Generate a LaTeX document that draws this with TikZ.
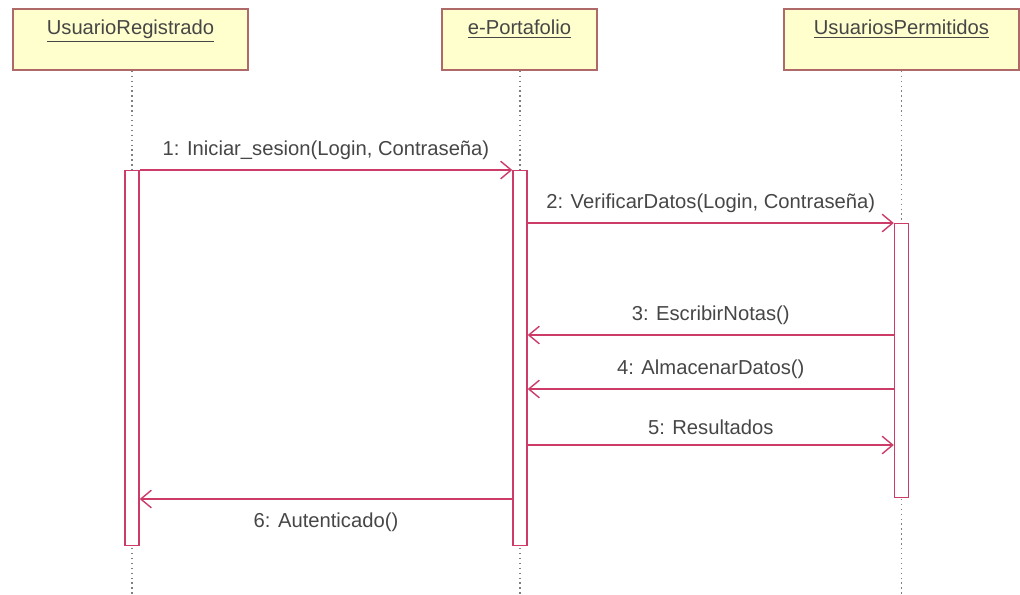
\documentclass[tikz,border=0pt]{standalone}
\usepackage{fontspec}
\setmainfont{Liberation Sans}
\usetikzlibrary{arrows.meta}
\definecolor{umlpink}{RGB}{205,60,105}
\definecolor{umlbox}{RGB}{255,255,206}
\definecolor{umledge}{RGB}{175,105,105}
\definecolor{umltext}{RGB}{70,70,70}
\tikzset{
	objeto/.style={draw=umledge, line width=1pt, fill=umlbox, minimum width=4.7cm, minimum height=1.22cm, text=umltext, font=\fontsize{11.5}{13}\selectfont, anchor=north, text depth=0pt},
	barra/.style={draw=umlpink, line width=0.8pt, fill=white, minimum width=0.28cm, inner sep=0pt, anchor=north},
	vida/.style={draw=gray, dotted, line width=0.8pt},
	msj/.style={draw=umlpink, line width=0.8pt, -{Straight Barb[length=6pt,width=10pt]}},
	etiq/.style={text=umltext, font=\fontsize{11.5}{13}\selectfont}
}
\begin{document}
\begin{tikzpicture}
		\useasboundingbox (0,0) rectangle (20.4,-11.88);
		% objetos
		\node[objeto] (ur) at (2.61,-0.16) {\raisebox{0.48cm}{\underline{UsuarioRegistrado}}};
		\node[objeto, minimum width=3.1cm] (ep) at (10.39,-0.16) {\raisebox{0.48cm}{\underline{e-Portafolio}}};
		\node[objeto] (up) at (18.03,-0.16) {\raisebox{0.48cm}{\underline{UsuariosPermitidos}}};
		% lineas de vida
		\draw[vida] (ur.south -| 2.64,0) -- (2.64,-11.88);
		\draw[vida] (ep.south -| 10.4,0) -- (10.4,-11.88);
		\draw[vida] (up.south -| 18.03,0) -- (18.03,-11.88);
		% activaciones
		\node[barra, minimum height=7.5cm] (a1) at (2.64,-3.4) {};
		\node[barra, minimum height=7.5cm] (a2) at (10.4,-3.4) {};
		\node[barra, minimum height=5.48cm] (a3) at (18.03,-4.46) {};
		% mensajes
		\coordinate (m3) at (0,-6.7);
		\coordinate (m4) at (0,-7.78);
		\coordinate (m5) at (0,-8.9);
		\coordinate (m6) at (0,-9.98);
		\draw[msj] (a1.north east) -- node[etiq, above=2pt] {1: Iniciar\_sesion(Login, Contraseña)} (a2.north west);
		\draw[msj] (a2.east |- a3.north) -- node[etiq, above=2pt] {2: VerificarDatos(Login, Contraseña)} (a3.north west);
		\draw[msj] (a3.west |- m3) -- node[etiq, above=2pt] {3: EscribirNotas()} (a2.east |- m3);
		\draw[msj] (a3.west |- m4) -- node[etiq, above=2pt] {4: AlmacenarDatos()} (a2.east |- m4);
		\draw[msj] (a2.east |- m5) -- node[etiq, above=2pt] {5: Resultados} (a3.west |- m5);
		\draw[msj] (a2.west |- m6) -- node[etiq, below=4pt] {6: Autenticado()} (a1.east |- m6);
\end{tikzpicture}
\end{document}
